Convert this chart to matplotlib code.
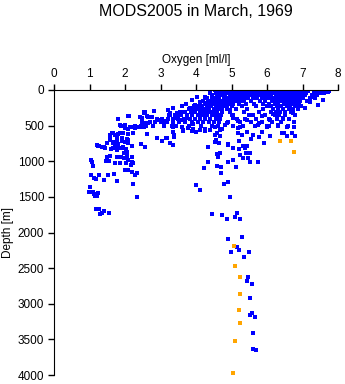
"""MODS2005 oxygen profiles, March 1969 - scatter of oxygen vs depth."""
import numpy as np
import matplotlib
matplotlib.use('Agg')
import matplotlib.pyplot as plt

# -- DATA
# dense upper layer, one list of oxygen values per depth row
band_depth = [10, 40, 75, 110, 150, 190, 230, 270, 310, 350, 400, 450, 500]
band_oxy = [
    [4.62, 4.71, 4.80, 4.93, 5.02, 5.11, 5.19, 5.27, 5.36, 5.44, 5.53, 5.61, 5.70, 5.79, 5.88, 5.96, 6.05,
     6.14, 6.22, 6.31, 6.40, 6.52, 6.60, 6.68, 6.77, 6.86, 6.95, 7.05, 7.15, 7.38, 7.47, 7.56, 7.66, 7.75],
    [4.55, 4.68, 4.77, 4.89, 4.98, 5.07, 5.15, 5.24, 5.33, 5.41, 5.50, 5.58, 5.67, 5.75, 5.84, 5.93, 6.01,
     6.10, 6.19, 6.27, 6.36, 6.45, 6.54, 6.63, 6.72, 6.81, 6.90, 7.00, 7.10, 7.33, 7.42, 7.52, 7.61],
    [4.45, 4.58, 4.70, 4.82, 4.95, 5.04, 5.13, 5.22, 5.30, 5.39, 5.48, 5.56, 5.65, 5.73, 5.82, 5.91, 6.02,
     6.12, 6.24, 6.33, 6.42, 6.50, 6.59, 6.70, 6.79, 6.88, 6.97, 7.08, 7.28, 7.40],
    [4.32, 4.45, 4.55, 4.66, 4.78, 4.90, 5.00, 5.10, 5.18, 5.28, 5.37, 5.46, 5.60, 5.72, 5.85, 5.98, 6.08,
     6.20, 6.30, 6.38, 6.48, 6.56, 6.66, 6.76, 6.85, 6.94, 7.02, 7.20, 7.35],
    [4.20, 4.33, 4.42, 4.52, 4.63, 4.74, 4.85, 4.97, 5.06, 5.16, 5.25, 5.35, 5.55, 5.80, 5.95, 6.15, 6.26,
     6.35, 6.44, 6.53, 6.62, 6.73, 6.82, 6.92, 7.12],
    [4.10, 4.24, 4.37, 4.48, 4.60, 4.70, 4.81, 4.93, 5.04, 5.20, 5.42, 5.63, 5.90, 6.05, 6.22, 6.32, 6.47,
     6.58, 6.69, 6.80, 6.90],
    [3.95, 4.05, 4.18, 4.30, 4.42, 4.55, 4.66, 4.76, 4.88, 5.00, 5.30, 5.70, 6.00, 6.12, 6.28, 6.40, 6.55,
     6.66, 6.78, 6.95],
    [3.80, 3.92, 4.03, 4.15, 4.27, 4.38, 4.50, 4.62, 4.73, 4.86, 5.12, 5.45, 5.88, 6.18, 6.30, 6.45, 6.62,
     6.72, 6.88],
    [3.55, 3.70, 3.85, 3.98, 4.10, 4.22, 4.35, 4.47, 4.60, 4.72, 4.95, 5.35, 5.78, 6.10, 6.25, 6.38, 6.52,
     6.68],
    [3.25, 3.40, 3.58, 3.75, 3.90, 4.05, 4.18, 4.32, 4.45, 4.57, 4.70, 5.00, 5.50, 5.95, 6.22, 6.35, 6.50,
     6.80],
    [2.90, 3.05, 3.20, 3.35, 3.50, 3.65, 3.82, 3.96, 4.10, 4.25, 4.40, 4.55, 4.68, 5.15, 5.38, 5.70, 6.05,
     6.28, 6.46, 6.62],
    [2.70, 2.85, 3.00, 3.18, 3.35, 3.52, 3.70, 3.88, 4.05, 4.20, 4.38, 4.52, 4.66, 4.90, 5.25, 5.55, 5.85,
     6.15, 6.40, 6.75],
    [2.45, 2.60, 2.78, 3.10, 3.45, 3.80, 4.15, 4.45, 4.62, 5.05, 5.32, 5.65, 6.00, 6.30, 6.60],
]

# scattered blue samples
blue_oxy = [
    # upper slope, 0-600 m
    1.81, 2.10, 1.86, 2.00, 2.28, 2.47, 2.54, 2.61, 2.75, 2.82, 2.56, 2.94, 3.08, 3.22, 3.27, 3.36,
    3.46, 3.60, 3.64, 3.72, 3.83, 3.88, 3.97, 4.02, 4.11, 4.16, 4.25, 4.30, 4.39, 4.49, 4.54, 4.63,
    4.68, 4.77, 4.86, 4.96, 3.88, 3.74, 3.60, 3.41, 3.32, 3.60, 3.92, 4.11, 4.28, 4.44, 4.58, 4.72,
    4.84, 4.96, 5.05, 5.19, 5.24, 5.43, 5.61, 5.75, 5.85, 5.99, 6.08, 6.18, 6.32, 6.46, 6.55, 6.77,
    6.74, 6.65, 6.84, 7.07, 7.21, 7.45, 7.59, 7.73, 7.49, 7.30,
    2.54, 2.63, 2.82, 2.47, 2.70, 2.94, 3.13, 3.36, 3.46, 3.27, 3.34, 3.34, 3.64, 3.78, 3.88, 4.00,
    4.11, 4.25, 4.39, 4.54, 4.58, 4.68, 4.82, 4.88, 5.05, 5.19, 2.91, 3.17, 3.27, 3.36, 4.35, 4.54,
    4.66, 4.91, 5.05,
    2.09, 1.89, 2.00, 2.14, 2.28, 2.42, 2.52, 1.63, 1.72, 1.86, 1.77, 1.58, 1.91, 2.00, 2.09, 1.25,
    1.34, 1.44, 1.67, 1.78, 1.95, 2.42, 2.54, 2.66, 2.66,
    # left arc, 500-1800 m
    1.03, 1.07, 1.09, 1.04, 1.14, 1.17, 1.27, 1.42, 1.51, 1.70, 1.77, 0.99, 1.01, 1.11, 1.14, 1.23,
    1.15, 1.20, 1.18, 1.26, 1.30, 1.34, 1.42, 1.56, 2.35, 2.23, 2.35, 2.28, 2.19, 2.16, 2.09, 2.00,
    2.03, 2.09, 2.19, 2.23, 1.86, 1.72, 1.56, 1.46, 1.50, 1.58, 1.77, 1.88, 1.98, 2.05, 2.19, 1.97,
    2.05, 2.03, 1.95, 1.86, 1.77, 1.60, 1.41, 1.27, 1.22, 1.50, 1.58, 1.65, 1.72, 1.81, 1.91, 2.05,
    2.09, 2.19, 2.44, 2.56, 1.58, 1.67, 1.81, 1.95, 2.09, 2.23, 1.88, 2.00, 2.08, 2.19, 2.28, 2.38,
    2.52, 2.63, 1.77, 1.70,
    # middle and right, 500-2400 m
    5.16, 4.90, 5.30, 4.44, 4.72, 4.86, 5.15, 5.11, 5.24, 4.97, 4.01, 4.12, 4.89, 4.79, 4.70, 4.71,
    4.60, 4.22, 4.35, 5.12, 4.89, 5.05, 5.23, 5.33, 5.47, 5.76, 5.52, 5.40, 5.53, 5.39, 5.44, 5.33,
    5.20, 4.91, 4.60, 4.68, 4.62, 4.35, 4.65, 4.55, 4.53, 4.68, 4.73, 4.25, 3.92, 3.64, 3.37, 3.37,
    3.15, 3.26, 3.03, 2.89, 5.20, 5.55, 5.61, 5.77, 5.92, 5.87, 6.09, 6.41, 6.47, 6.70, 6.57, 6.79,
    6.05, 5.77, 5.18, 5.43, 5.29,
    # deep column
    4.99, 5.22, 5.50, 5.36, 5.47, 5.44, 5.59, 5.53, 5.59, 5.53, 5.67, 5.61, 5.61, 5.70,
]
blue_depth = [
    403, 365, 491, 515, 505, 393, 515, 459, 384, 290, 304, 421, 445, 281, 351, 257,
    327, 225, 304, 197, 257, 140, 211, 94, 164, 281, 94, 187, 37, 140, 0, 70,
    234, 47, 140, 23, 327, 398, 421, 398, 505, 515, 477, 398, 351, 304, 351, 281,
    225, 281, 351, 431, 515, 421, 351, 491, 365, 515, 421, 337, 491, 398, 515, 515,
    327, 257, 225, 257, 164, 211, 140, 23, 47, 94,
    313, 365, 295, 445, 445, 421, 435, 445, 374, 327, 515, 585, 571, 538, 571, 585,
    562, 552, 562, 515, 608, 562, 491, 468, 398, 608, 678, 678, 740, 772, 796, 725,
    740, 772, 819,
    360, 501, 491, 515, 529, 515, 468, 608, 632, 608, 702, 678, 678, 725, 702, 782,
    796, 819, 819, 796, 819, 374, 327, 374, 468,
    983, 1006, 1062, 1193, 1231, 1254, 1193, 1264, 1193, 1184, 1278, 1436, 1357, 1428, 1460, 1451,
    1488, 1488, 1675, 1675, 1741, 1722, 1699, 1722, 1498, 1320, 1170, 1193, 1156, 1053, 1123, 1123,
    1030, 983, 1006, 1030, 1030, 1020, 993, 993, 936, 922, 945, 936, 960, 922, 945, 890,
    866, 829, 796, 820, 843, 833, 805, 786, 777, 749, 702, 740, 772, 758, 711, 693,
    749, 782, 758, 796, 632, 599, 618, 608, 618, 608, 505, 538, 552, 524, 538, 515,
    505, 618, 678, 725,
    2200, 2092, 2068, 1745, 1760, 1807, 1731, 1779, 1816, 1507, 1338, 1408, 1296, 1324, 1161, 1077,
    1071, 1090, 1011, 1077, 1011, 983, 913, 960, 960, 1011, 1011, 890, 890, 820, 791, 782,
    833, 758, 899, 880, 936, 805, 740, 702, 632, 641, 552, 576, 552, 562, 636, 660,
    678, 740, 716, 669, 711, 693, 632, 655, 740, 594, 646, 608, 608, 608, 641, 641,
    501, 468, 534, 585, 627,
    2270, 2246, 2270, 2345, 2630, 2682, 2728, 2925, 3126, 3163, 3191, 3412, 3636, 3655,
]

# orange samples
orange_oxy = [6.37, 6.69, 6.77, 5.08, 5.11, 5.25, 5.24, 5.22, 5.25, 5.10, 5.05]
orange_depth = [712, 721, 875, 2195, 2476, 2630, 2864, 3084, 3271, 3524, 3978]

x_ticks = [0, 1, 2, 3, 4, 5, 6, 7, 8]
y_ticks = [0, 500, 1000, 1500, 2000, 2500, 3000, 3500, 4000]


def main():
    plt.rcParams['font.family'] = ['Liberation Sans', 'DejaVu Sans']

    oxy = list(blue_oxy)
    dep = list(blue_depth)
    for d, row in zip(band_depth, band_oxy):
        oxy += row
        dep += [d] * len(row)

    fig = plt.figure(figsize=(3.45, 3.84), dpi=100)
    ax = fig.add_axes([54/345, 1 - 375/384, (338 - 54)/345, (375 - 90)/384])

    ax.scatter(oxy, dep, s=5, marker='s', color='#0000ff', linewidths=0)
    ax.scatter(orange_oxy, orange_depth, s=5, marker='s', color='#ffa500', linewidths=0)

    ax.set_xlim(0, 8)
    ax.set_ylim(4000, 0)
    ax.set_xticks(x_ticks)
    ax.set_yticks(y_ticks)
    ax.xaxis.tick_top()
    ax.xaxis.set_label_position('top')
    ax.spines['bottom'].set_visible(False)
    ax.spines['right'].set_visible(False)
    ax.tick_params(direction='out', length=4, width=1, labelsize=8.5, pad=3)
    ax.set_xlabel('Oxygen [ml/l]', fontsize=8.5, labelpad=4)
    ax.set_ylabel('Depth [m]', fontsize=8.5, labelpad=3)

    # title is centred over the plot area, not the figure
    fig.text(196/345, 1 - 12/384, 'MODS2005 in March, 1969', fontsize=11.5,
             ha='center', va='center')

    fig.savefig('out.png', dpi=100)


main()
